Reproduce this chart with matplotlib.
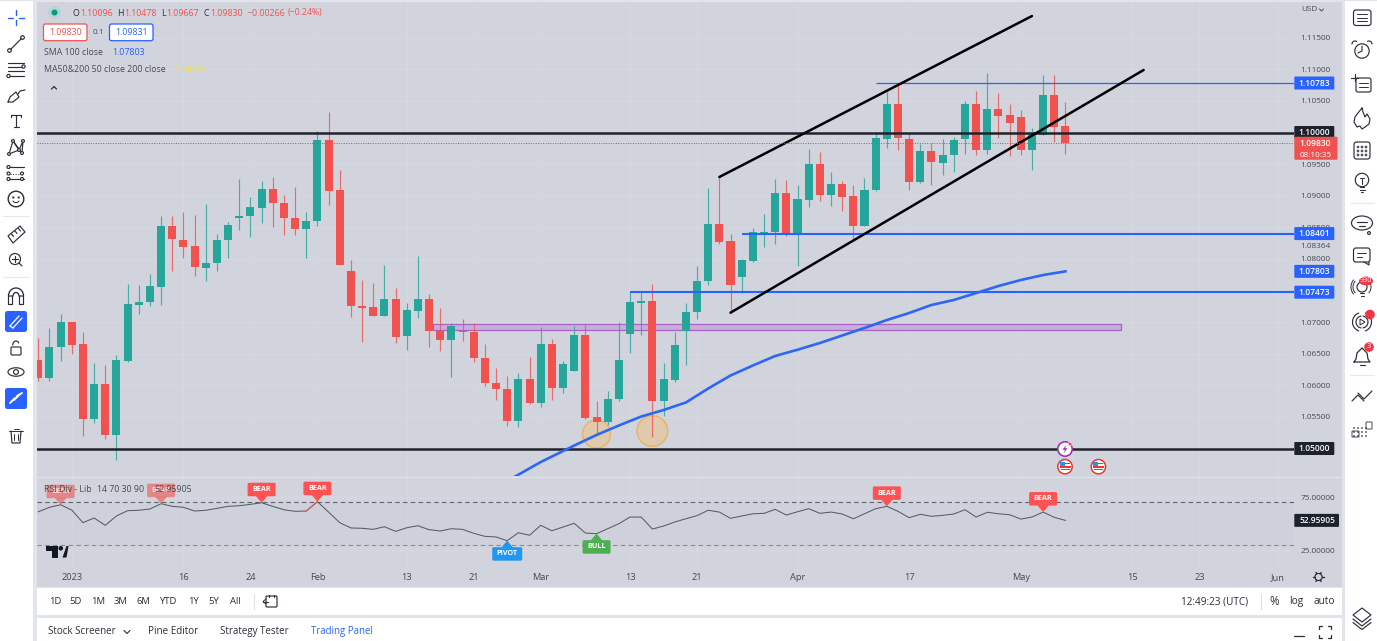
import numpy as np
import matplotlib
matplotlib.use("Agg")
import matplotlib.pyplot as plt
from matplotlib.patches import Rectangle, FancyBboxPatch, Circle, Ellipse, Polygon

plt.rcParams['font.family'] = ['Open Sans', 'DejaVu Sans']

opens = [1.06396,1.06111,1.06601,1.06997,1.06649,1.05462,1.06021,1.05214,1.06384,1.07271,
 1.07318,1.07560,1.08521,1.08294,1.08204,1.07861,1.07935,1.08299,1.08647,1.08674,
 1.08805,1.09111,1.08880,1.08647,1.08478,1.08595,1.09881,1.09090,1.07804,1.07255,
 1.07239,1.07096,1.07370,1.06785,1.07180,1.07361,1.06859,1.06717,1.06859,1.06843,
 1.06437,1.06036,1.05946,1.05430,1.06095,1.05715,1.06653,1.05962,1.06231,1.06796,
 1.05494,1.05419,1.05783,1.06807,1.07302,1.07329,1.05756,1.06084,1.06854,1.07160,
 1.07650,1.08547,1.08283,1.07714,1.07967,1.08399,1.08426,1.09043,1.08394,1.08932,
 1.09502,1.09011,1.09180,1.08995,1.08521,1.09085,1.09897,1.10456,1.09892,1.09217,
 1.09707,1.09522,1.09644,1.09892,1.10446,1.09718,1.10377,1.10272,1.10241,1.09718,
 1.09965,1.10593,1.10096]
highs = [1.06753,1.06902,1.07133,1.07000,1.06839,1.06353,1.06316,1.06479,1.07603,1.07587,
 1.07761,1.08679,1.08679,1.08742,1.08695,1.08873,1.08394,1.08589,1.09259,1.08975,
 1.09233,1.09301,1.09006,1.09142,1.08747,1.10028,1.10324,1.09407,1.07983,1.07661,
 1.07614,1.07908,1.07535,1.07302,1.08046,1.07445,1.07218,1.06981,1.07044,1.06981,
 1.06649,1.06278,1.06147,1.06199,1.06448,1.06922,1.06728,1.06384,1.06938,1.06954,
 1.05747,1.05910,1.07006,1.07471,1.07492,1.07603,1.06358,1.06843,1.07297,1.07888,
 1.09122,1.09296,1.08389,1.07994,1.08484,1.08715,1.09264,1.09248,1.09165,1.09734,
 1.09691,1.09375,1.09237,1.09165,1.09275,1.10008,1.10646,1.10778,1.09987,1.09818,
 1.09829,1.09892,1.09934,1.10494,1.10661,1.10946,1.10630,1.10451,1.10356,1.10071,
 1.10910,1.10910,1.10478]
lows = [1.06068,1.06068,1.06384,1.06495,1.05198,1.05403,1.05150,1.04818,1.06376,1.07128,
 1.07255,1.07271,1.07813,1.08014,1.07734,1.07655,1.07813,1.08019,1.08457,1.08351,
 1.08568,1.08505,1.08378,1.08383,1.08019,1.08521,1.08853,1.07905,1.07085,1.06690,
 1.07090,1.07090,1.06674,1.06559,1.07065,1.06611,1.06547,1.06136,1.06706,1.06373,
 1.05994,1.05767,1.05356,1.05345,1.05707,1.05661,1.05767,1.05883,1.06226,1.05467,
 1.05250,1.05372,1.05747,1.06516,1.06796,1.05177,1.05514,1.06057,1.06316,1.07044,
 1.07587,1.08236,1.07149,1.07456,1.07951,1.08184,1.08236,1.08367,1.07892,1.08826,
 1.08911,1.08837,1.08758,1.08299,1.08513,1.09081,1.09759,1.09718,1.09090,1.09206,
 1.09169,1.09328,1.09375,1.09660,1.09639,1.09660,1.09908,1.09628,1.09639,1.09407,
 1.09962,1.09850,1.09667]
closes = [1.06111,1.06611,1.06997,1.06638,1.05462,1.06021,1.05214,1.06396,1.07282,1.07326,
 1.07571,1.08521,1.08310,1.08193,1.07867,1.07940,1.08304,1.08541,1.08679,1.08816,
 1.09111,1.08880,1.08647,1.08473,1.08600,1.09881,1.09079,1.07908,1.07255,1.07228,
 1.07096,1.07370,1.06759,1.07191,1.07361,1.06854,1.06717,1.06938,1.06839,1.06432,
 1.06032,1.05946,1.05440,1.06095,1.05715,1.06653,1.05962,1.06337,1.06796,1.05483,
 1.05419,1.05788,1.06396,1.07318,1.07329,1.05756,1.06100,1.06642,1.07165,1.07655,
 1.08547,1.08272,1.07582,1.07978,1.08421,1.08430,1.09043,1.08405,1.08948,1.09502,
 1.09011,1.09185,1.08984,1.08521,1.09090,1.09908,1.10456,1.09913,1.09222,1.09707,
 1.09528,1.09644,1.09877,1.10446,1.09718,1.10372,1.10261,1.10150,1.09723,1.09972,
 1.10593,1.10087,1.09830]

sma_bars = [42,45,48,50,52,54,56,58,60,62,64,66,68,70,72,74,76,78,80,82,84,86,88,90,92]
sma_vals = [1.04486,1.04786,1.05047,1.05214,1.05364,1.05506,1.05609,1.05728,1.05949,1.06155,
 1.06313,1.06464,1.06563,1.06669,1.06788,1.06907,1.07033,1.07144,1.07271,1.07350,
 1.07460,1.07571,1.07666,1.07745,1.07803]

rsi_vals = [61.1,65.3,67.7,62.7,50.8,55.2,48.3,57.1,62.1,62.5,63.7,68.7,66.2,65.3,61.8,62.5,
 64.3,66.2,66.8,68.1,69.6,66.2,63.0,61.5,61.8,70.6,60.8,50.8,45.8,45.5,44.5,47.0,42.6,46.0,
 47.9,44.2,42.9,45.1,44.5,40.8,37.9,37.3,33.8,41.3,38.9,48.3,43.2,46.7,50.2,41.0,40.4,45.1,
 49.8,56.1,56.1,44.8,47.6,51.4,54.5,57.4,62.5,60.8,54.9,57.1,59.2,59.6,63.4,58.0,61.1,64.0,
 59.6,60.8,59.0,54.5,59.2,64.0,66.2,61.5,55.5,58.7,56.8,57.7,59.0,63.0,56.1,60.6,59.2,58.3,
 54.2,56.1,60.8,55.8,52.96]

price_ticks = [1.115,1.11,1.105,1.095,1.09,1.085,1.08,1.07,1.065,1.06,1.055]
time_bars = [3,13,19,25,33,39,45,53,59,68,78,88,98,104,111]
time_labels = ['2023','16','24','Feb','13','21','Mar','13','21','Apr','17','May','15','23','Jun']
rsi_ticks = [25,75]
# (first bar, level, label)
level_lines = [(-1,1.10,'1.10000'),(-1,1.05,'1.05000'),(75,1.10783,'1.10783'),(63,1.08401,'1.08401'),(53,1.07473,'1.07473')]
zone = (35.35,97,1.0688,1.06965)
upper_channel = ([61,89],[1.09296,1.11843])
lower_channel = ([62,99],[1.07149,1.10989])
circles = [(50,1.05229,14),(55,1.05277,15.3)]
rsi_tags = [(2,67.7,'BEAR','#EF5350',0.6),(11,68.7,'BEAR','#EF5350',0.6),(20,69.6,'BEAR','#FF5252',1),
            (25,70.6,'BEAR','#FF5252',1),(76,66.2,'BEAR','#FF5252',1),(90,60.8,'BEAR','#FF5252',1),
            (42,33.8,'PIVOT','#2196F3',1),(50,40.4,'BULL','#4CAF50',1)]

W,H = 1377,641
GREEN,RED = '#26A69A','#F0524F'
BLUE = '#2962FF'
INK = '#2A2E39'
PANE = '#D1D4DC'
TXT = '#474A54'
SCALE_PT = 5.95
HEAD_PT = 6.35

fig = plt.figure(figsize=(W/100,H/100),dpi=100,facecolor='#E1E4EB')
def box(x0,y0,x1,y1,z):
    a = fig.add_axes([x0/W,1-y1/H,(x1-x0)/W,(y1-y0)/H],zorder=z)
    return a
bg = box(0,0,W,H,0); bg.set_xlim(0,W); bg.set_ylim(H,0); bg.axis('off')
for x0,y0,x1,y1,c in [(0,1,33,641,'white'),(37,2,1342,587,PANE),(37,588,1342,615,'white'),
                      (37,618,1342,641,'white'),(1345,1,1377,641,'white')]:
    bg.add_patch(Rectangle((x0,y0),x1-x0,y1-y0,fc=c,ec='none'))

ax = box(37,2,1294,476,2)
rs = box(37,477,1294,567,2)
fg = box(0,0,W,H,5); fg.set_xlim(0,W); fg.set_ylim(H,0); fg.axis('off')
xlim = (-0.116,112.47)
GRID = '#D6D9E0'
for a in (ax,rs):
    a.set_facecolor('none')
    a.set_xlim(*xlim)
    for s in a.spines.values(): s.set_visible(False)
    a.yaxis.tick_right()
    a.tick_params(length=0,labelcolor=TXT,pad=4.6)
    a.set_xticks(time_bars)
    a.grid(True,color=GRID,lw=0.7)
    a.set_axisbelow(True)

ax.set_ylim(1.04565,1.12065)
ax.set_yticks(price_ticks)
ax.set_yticklabels([f'{v:.5f}' for v in price_ticks],fontsize=SCALE_PT)
ax.tick_params(axis='x',labelbottom=False)

ax.add_patch(Rectangle((zone[0],zone[2]),zone[1]-zone[0],zone[3]-zone[2],fc='#C6AFD8',ec='#AB62C8',lw=0.9,zorder=1.5))
for b,p,r in circles:
    ax.add_patch(Ellipse((b,p),2*r/11.165,2*r/6320,fc='#E6C79E',ec='#F2A93B',alpha=0.75,lw=1,zorder=1.6))

n = len(opens)
xs = np.arange(n)
o,h,l,c = map(np.array,(opens,highs,lows,closes))
cols = [GREEN if cc>=oo else RED for oo,cc in zip(o,c)]
ax.vlines(xs,l,h,colors=cols,lw=0.85,alpha=0.8,zorder=2)
ax.bar(xs,np.abs(c-o),bottom=np.minimum(o,c),width=0.72,color=cols,edgecolor='none',zorder=3)

for b,v,_ in level_lines:
    thick = v in (1.10,1.05)
    ax.plot([b,xlim[1]],[v,v],color='#20232D' if thick else BLUE,lw=1.8 if thick else (0.9 if v==1.10783 else 1.5),zorder=4,solid_capstyle='butt')
ax.plot(sma_bars,sma_vals,color='#2E66F5',lw=1.9,zorder=4.5)
for xx,yy in (upper_channel,lower_channel):
    ax.plot(xx,yy,color='black',lw=1.8,zorder=5,solid_capstyle='round')
ax.plot([xlim[0],xlim[1]],[closes[-1]]*2,color='#E0464A',lw=0.7,ls=(0,(1,1.5)),zorder=5)

# RSI pane
rs.set_ylim(8.96,93.9)
rs.set_yticks(rsi_ticks)
rs.set_yticklabels([f'{v:.5f}' for v in rsi_ticks],fontsize=SCALE_PT)
rs.set_xticklabels(time_labels,fontsize=6.7)
rs.tick_params(axis='x',pad=4.2)
rs.axhspan(30,70,color='#7E57C2',alpha=0.03,lw=0)
rs.axhline(70,color='#60636C',lw=0.8,ls=(0,(4,3)))
rs.axhline(30,color='#8A8D95',lw=0.8,ls=(0,(4,3)))
rs.plot(xs,rsi_vals,color='#5A5B63',lw=0.75)
rs.plot(xs[24:26],rsi_vals[24:26],color='#F0524F',lw=0.75)

# ---------- overlay helpers
def px(a,x,y):
    d = a.transData.transform((x,y))
    return d[0],H-d[1]
def T(x,y,s,size=7.6,color=INK,ha='left',**k):
    fg.text(x,y,s,fontsize=size,color=color,ha=ha,va='center',**k)
def L(x,y,color=INK,lw=0.85,**k):
    fg.plot(x,y,color=color,lw=lw,solid_capstyle='round',**k)
def C(x,y,r,fc='none',ec=INK,lw=0.85,z=2):
    fg.add_patch(Circle((x,y),r,fc=fc,ec=ec,lw=lw,zorder=z))
def R(x0,y0,x1,y1,fc='none',ec=INK,lw=0.85,rad=1.5,z=2,alpha=None):
    fg.add_patch(FancyBboxPatch((x0+rad,y0+rad),x1-x0-2*rad,y1-y0-2*rad,boxstyle=f'round,pad={rad}',fc=fc,ec=ec,lw=lw,zorder=z,alpha=alpha))
def arc(x,y,rx,ry,a0,a1,**k):
    t = np.radians(np.linspace(a0,a1,30))
    L(x+rx*np.cos(t),y+ry*np.sin(t),**k)

fg.set_autoscale_on(False)

def tag_price(y,txt,col,x1=1334.3,h=13):
    R(1294.3,y-h/2,x1,y+h/2,fc=col,ec='none',lw=0,rad=1,z=6)
    fg.text((1294.3+x1)/2,y,txt,color='white',fontsize=6.1,ha='center',va='center',zorder=7,fontweight='semibold')
for b,v,t in level_lines:
    tag_price(px(ax,0,v)[1],t,'#1E222D' if v in (1.10,1.05) else BLUE)
tag_price(px(ax,0,sma_vals[-1])[1],'1.07803',BLUE)
yc = px(ax,0,closes[-1])[1]
R(1294.3,yc-6.5,1337.5,yc+16.5,fc='#EF5350',ec='none',lw=0,rad=1,z=6)
fg.text(1315,yc,'1.09830',color='white',fontsize=6.1,ha='center',va='center',zorder=7,fontweight='semibold')
fg.text(1316,yc+12.5,'08:10:35',color='white',fontsize=5.9,ha='center',va='center',zorder=7)
fg.text(1300.7,246.7,'1.08364',fontsize=SCALE_PT,color=TXT,va='center')
yr = px(rs,0,rsi_vals[-1])[1]
R(1294.3,yr-6.5,1339,yr+6.5,fc='#1E222D',ec='none',lw=0,rad=1,z=6)
fg.text(1317,yr,'52.95905',color='white',fontsize=6.0,ha='center',va='center',zorder=7,fontweight='semibold')
T(1301.5,9.5,'USD',size=5.9,color=TXT)
L([1319.5,1321.5,1323.5],[9,11,9],color=TXT,lw=0.7)

# header
C(54.5,12.5,6.5,fc='#B9D5D3',ec='none'); C(54.5,12.5,3,fc='#089981',ec='none',z=3)
for x,s,col in [(72.7,'O',INK),(80,'1.10096',RED),(116.7,'H',INK),(124.3,'1.10478',RED),(161.3,'L',INK),
                (166.7,'1.09667',RED),(204,'C',INK),(210,'1.09830',RED),(247.3,'\u22120.00266',RED),(288,'(\u22120.24%)',RED)]:
    fg.text(x,13,s,fontsize=HEAD_PT,color=col,va='center')
R(43.5,24,87,40.7,fc='white',ec='#EF5350',lw=0.9,rad=2)
fg.text(65.3,32.5,'1.09830',fontsize=HEAD_PT,color=RED,ha='center',va='center')
T(98,32.5,'0.1',size=5.9,color=TXT,ha='center')
R(109.5,24,153,40.7,fc='white',ec=BLUE,lw=0.9,rad=2)
fg.text(131,32.5,'1.09831',fontsize=HEAD_PT,color=BLUE,ha='center',va='center')
T(43.7,52.7,'SMA 100 close',size=6.3,color=TXT)
fg.text(112.7,52.7,'1.07803',fontsize=HEAD_PT,color=BLUE,va='center')
T(43.7,70,'MA50&200 50 close 200 close',size=6.3,color=TXT)
fg.text(175.7,70,'1.04325',fontsize=HEAD_PT,color='#F5E43C',va='center')
L([51.5,54,56.5],[89,86.5,89],lw=0.9)

# RSI tags
for b,v,s,col,alpha in rsi_tags:
    tx,ty = px(rs,b,v)
    up = s in ('PIVOT','BULL')
    hw = 15 if s=='PIVOT' else 14
    sign = 1 if up else -1
    y0 = ty+sign*6.5; y1 = y0+sign*13.5
    R(tx-hw,min(y0,y1),tx+hw,max(y0,y1),fc=col,ec='none',lw=0,rad=1.5,z=3,alpha=alpha)
    fg.add_patch(Polygon([(tx,ty),(tx-6,y0+sign*0.5),(tx+6,y0+sign*0.5)],fc=col,ec='none',alpha=alpha,zorder=3))
    fg.text(tx,(y0+y1)/2,s,color='white',fontsize=5.2,ha='center',va='center',fontweight='bold',zorder=4,alpha=alpha if alpha==1 else 0.7)
T(44,489,'RSI Div - Lib',size=6.3,color=TXT,zorder=5)
T(96.7,489,'14 70 30 90',size=6.3,color=TXT,zorder=5)
fg.text(154,489,'52.95905',fontsize=6.3,color=TXT,va='center',zorder=5)

# chart logo
for pts in ([(45.7,546),(58,546),(58,557.5),(52,557.5),(52,551),(45.7,551)],
            [(62.5,557.5),(66.5,546),(68.5,546),(66.5,557.5)]):
    fg.add_patch(Polygon(pts,fc='#131722',ec='none'))
C(60.8,548.3,2.3,fc='#131722',ec='none')

# events
for x,y in [(1065,449)]:
    C(x,y,7.2,fc='white',ec='#9C27B0',lw=1.1,z=6)
    fg.add_patch(Polygon([(x+1.5,y-4.5),(x-2.5,y+0.8),(x,y+0.8),(x-1.5,y+4.5),(x+2.5,y-0.8),(x,y-0.8)],fc='#9C27B0',ec='none',zorder=7))
    C(x+5,y-5,1.8,fc='#F23645',ec='white',lw=0.4,z=8)
for x,y in [(1065,466.7),(1098.4,466.7)]:
    C(x,y,7.2,fc='white',ec='#E53935',lw=1.1,z=6)
    fg.add_patch(Rectangle((x-5.5,y-0.5),11,1.6,fc='#E53935',ec='none',zorder=7))
    fg.add_patch(Rectangle((x-4.5,y+2.5),9,1.2,fc='#E53935',ec='none',zorder=7))
    fg.add_patch(Rectangle((x-5,y-5),5,4.5,fc='#2196F3',ec='none',zorder=7))
    fg.add_patch(Rectangle((x,y-4),5,1.2,fc='#E53935',ec='none',zorder=7))

# gear
C(1318.5,577,3.6)
for a_ in np.radians(np.arange(0,360,60)):
    L([1318.5+3.6*np.cos(a_),1318.5+5.2*np.cos(a_)],[577+3.6*np.sin(a_),577+5.2*np.sin(a_)],lw=1)

# bottom bars
for x,s in [(55,'1D'),(76,'5D'),(98.5,'1M'),(120.7,'3M'),(143,'6M'),(168,'YTD'),(193,'1Y'),(213.7,'5Y'),(235.5,'All')]:
    T(x,601.5,s,size=6.8,color=INK,ha='center')
L([253.5,253.5],[594,609],color='#DDE0E6',lw=0.8)
R(266,596,277,607,rad=1); L([263,268],[601.5,601.5]); L([266,263,266],[599,601.5,604],lw=0.7)
L([269,269],[594.5,597]); L([274,274],[594.5,597])
T(1215,601.5,'12:49:23 (UTC)',size=7.2,color=INK,ha='center')
L([1260.5,1260.5],[594,609],color='#DDE0E6',lw=0.8)
T(1274.5,601.5,'%',size=8.4,color=INK,ha='center')
T(1296.7,601.5,'log',size=7.3,color=INK,ha='center')
T(1324,601.5,'auto',size=7.3,color=INK,ha='center')
T(82.3,631.5,'Stock Screener',size=7,color=INK,ha='center')
L([124,127,130],[630.5,633.5,630.5],lw=0.8)
T(173,631.5,'Pine Editor',size=7.1,color=INK,ha='center')
T(254,631.5,'Strategy Tester',size=7,color=INK,ha='center')
T(341.7,631.5,'Trading Panel',size=6.9,color=BLUE,ha='center')
L([1294,1304],[636,636],lw=0.9)
for sx,sy in [(-1,-1),(1,-1),(-1,1),(1,1)]:
    L([1325+sx*3,1325+sx*6,1325+sx*6],[632+sy*6,632+sy*6,632+sy*3],lw=0.9)

# left toolbar
def seg(*p,**k):
    for q in p: L([q[0],q[2]],[q[1],q[3]],**k)
seg((16,10,16,15),(16,20,16,25),(8,17.5,13,17.5),(19,17.5,24,17.5),color=BLUE,lw=1)
seg((10.5,49.5,21.5,38.5)); C(9.5,50.5,1.8); C(22.5,37.5,1.8)
seg((8,62.5,24,62.5),(8,66.5,22,66.5),(8,71,24,71),(10,76,24,76)); C(23.5,66.5,1.6); C(8.5,76,1.6)
L([8,10,16,19,13,8],[102,97,92,97,102,102]); L([18,20,25],[94,91,90])
seg((11,115,21,115),(11,115,11,117),(21,115,21,117),(16,115,16,127),(13.5,127,18.5,127))
L([9,13,19,23,22],[154,141,150,141,153]); seg((13,141,22,153),(9,154,19,150))
for xp,yp in [(9,154),(13,141),(19,150),(23,141),(22,153)]: C(xp,yp,1.4,fc='white')
seg((8,167,24,167),(8,179,24,179)); seg((10,173.5,20,173.5),lw=0.7,ls=':')
for xp,yp in [(8.5,167),(8.5,173.5),(8.5,179),(22,173.5),(22,179)]: C(xp,yp,1.5,fc='white')
C(16,199,7.8,lw=1); C(13.3,197.5,0.5,fc=INK); C(18.7,197.5,0.5,fc=INK); arc(16,200,3.2,2.6,20,160,lw=0.7)
for yy in (216,277): L([3,29],[yy,yy],color='#E6E8EE',lw=0.8)
fg.add_patch(Polygon([(8,236),(20,226),(25,232),(13,243)],fc='none',ec=INK,lw=0.85))
seg((11.5,234,13.5,236.5),(15,231,17,233.5),(18.5,228.5,20.5,231))
C(15,259,5.5); seg((15,256,15,262),(12,259,18,259),(19,263,22,266))
arc(16,296,7.5,8,180,360,lw=0.95); arc(16,296,3,3.5,180,360,lw=0.95)
R(8.5,296,12.5,304.5,rad=0.3); R(19.5,296,23.5,304.5,rad=0.3)
R(5,311,27,332,fc=BLUE,ec='none',lw=0,rad=2.5)
seg((10,326,19,316),(13,328,22,318),(10,326,13,328),color='white',lw=0.9)
R(11,347,21,355,rad=1); arc(16,345,3.2,4,180,330)
fg.add_patch(Ellipse((16,372),16,8.5,fc='none',ec=INK,lw=0.85)); C(16,372,2.4)
R(5,388,27,409,fc=BLUE,ec='none',lw=0,rad=2.5)
seg((10,403,15,398),(17,396,22,393),(14,400,19,395),color='white',lw=1.4)
L([11,12,20,21],[431,443,443,431]); seg((9,431,23,431),(13.5,428.5,18.5,428.5),(14,434,14,440),(18,434,18,440),lw=0.7)

# right toolbar
R(1353.5,10,1371,25.5,rad=2.5)
for yy in (14,17.5,21): L([1357,1367],[yy,yy],lw=0.7)
C(1362,51,7.2); L([1362,1362,1358],[46,51,53],lw=0.8); arc(1355,44,3,3,180,300); arc(1369,44,3,3,240,360)
L([1354.5,1354.5],[74,81]); L([1351,1358],[77.5,77.5])
R(1356,78,1371,92,rad=2)
for yy in (83,87): L([1359,1368],[yy,yy],lw=0.7)
L([1362,1358,1355,1354,1357,1360,1362,1365,1369,1370,1367,1365,1363,1362],[108,113,117,122,127,126,129,127,124,119,114,117,112,108],lw=0.85)
R(1354,142,1370,159,rad=2.5)
for xp in (1358,1362,1366):
    for yp in (147,151,155): C(xp,yp,0.9,fc='none',lw=0.6)
C(1362,180,6.7); seg((1360,187,1364,187),(1359.5,189.5,1364.5,189.5),(1361,192,1363,192),(1362,178,1362,184),(1360,178,1364,178),lw=0.75)
L([1350,1374],[203,203],color='#E6E8EE',lw=0.8)
fg.add_patch(Ellipse((1362,223),21,14,fc='none',ec=INK,lw=0.85))
seg((1357,222,1367,222),(1359,226,1365,226)); C(1369,233,1.4)
R(1353.5,248,1370,262,rad=2.5); L([1364,1369,1369],[262,265,262]); seg((1357,253,1366,253),(1357,257,1362,257),lw=0.7)
C(1362,287,5); seg((1360,293,1364,293),(1360.5,296,1363.5,296),lw=0.75)
arc(1362,287,9,9,140,220,lw=0.7); arc(1362,287,11,11,140,220,lw=0.7); arc(1362,287,9,9,320,400,lw=0.7)
fg.add_patch(Ellipse((1366,281),14,9,fc='#F23645',ec='none',zorder=4))
fg.text(1366,281,'930',color='white',fontsize=5.2,ha='center',va='center',zorder=5)
arc(1362,322,6,6,100,260,lw=0.85); arc(1362,322,9.5,9.5,110,250,lw=0.85); arc(1362,322,6,6,-80,80,lw=0.85); arc(1362,322,9.5,9.5,-70,70,lw=0.85)
fg.add_patch(Polygon([(1360,319),(1360,325),(1365,322)],fc='none',ec=INK,lw=0.7))
C(1370,314.5,4.8,fc='#F23645',ec='none',z=4)
L([1354,1356,1357,1362,1367,1368,1370,1354],[362,359,353,348,353,359,362,362],lw=0.9); L([1359.5,1364.5],[364.5,364.5])
C(1369,347,4.8,fc='#F23645',ec='none',z=4)
fg.text(1369,347,'3',color='white',fontsize=5.5,ha='center',va='center',zorder=5)
L([1350,1374],[375,375],color='#E6E8EE',lw=0.8)
L([1352,1358,1364],[401,395,401]); L([1358,1364,1370,1372],[393,399,393,391])
for xp in (1354,1358,1362,1366):
    for yp in (428,432,436): C(xp,yp,0.9,fc=TXT,ec='none')
R(1352,431,1359,437,rad=0.5,lw=0.6); R(1366,422,1372,429,rad=0.5,lw=0.6)
fg.add_patch(Polygon([(1362,608),(1371,615),(1362,622),(1353,615)],fc='none',ec=INK,lw=0.85))
L([1353,1362,1371],[619,626,619]); L([1353,1362,1371],[622.5,629.5,622.5])

fg.plot([37,1342],[476.5,476.5],color='#E0E3EB',lw=0.9,zorder=1)

fig.savefig('out.png',dpi=100,facecolor=fig.get_facecolor())
